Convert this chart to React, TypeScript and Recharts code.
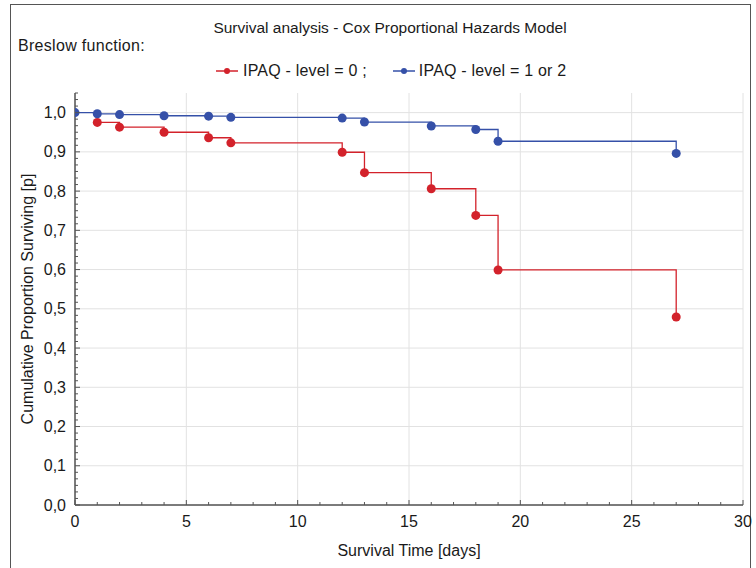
import React from "react";
import {
  LineChart,
  Line,
  XAxis,
  YAxis,
  CartesianGrid,
} from "recharts";

// ---- data ----
const blueDays = [0, 1, 2, 4, 6, 7, 12, 13, 16, 18, 19, 27];
const blueSurv = [1.0, 0.997, 0.995, 0.992, 0.991, 0.988, 0.986, 0.976, 0.966, 0.957, 0.927, 0.896];
const redDays = [1, 2, 4, 6, 7, 12, 13, 16, 18, 19, 27];
const redSurv = [0.975, 0.963, 0.95, 0.936, 0.923, 0.899, 0.847, 0.806, 0.738, 0.599, 0.479];

const xMajorTicks = [0, 5, 10, 15, 20, 25, 30];
const yMajorTicks = [0, 0.1, 0.2, 0.3, 0.4, 0.5, 0.6, 0.7, 0.8, 0.9, 1.0];

const titleText = "Survival analysis - Cox Proportional Hazards Model";
const subtitleText = "Breslow function:";
const redName = "IPAQ - level = 0 ;";
const blueName = "IPAQ - level = 1 or 2";
const xLabel = "Survival Time [days]";
const yLabel = "Cumulative Proportion Surviving [p]";

const redData = redDays.map((t, i) => ({ t, p: redSurv[i] }));
const blueData = blueDays.map((t, i) => ({ t, p: blueSurv[i] }));

// minor tick positions (styling only)
const xMinor = Array.from({ length: 31 }, (_, i) => i);
const yMinor = Array.from({ length: 64 }, (_, i) => i / 60);
const topMinor = Array.from({ length: 36 }, (_, i) => i);
const rightMinor = Array.from({ length: 41 }, (_, i) => i);

const RED = "#d3222b";
const BLUE = "#3550a8";
const FONT = "'Liberation Sans', Arial, sans-serif";
const TXT = "#1a1a1a";
const TICK_MARGIN = 9;
const FS = 16;

const fmt = (v: number) => v.toFixed(1).replace(".", ",");

const YTick = (props: any) => {
  const { x, y, payload } = props;
  const v = payload.value as number;
  const major = Math.round(v * 60) % 6 === 0;
  const ax = x + TICK_MARGIN;
  return (
    <g>
      <line x1={ax} x2={ax + (major ? 5 : 3)} y1={y} y2={y} stroke="#555" strokeWidth={1} />
      {major && (
        <text x={x} y={y} textAnchor="end" dominantBaseline="central" fontSize={FS} fontFamily={FONT} fill={TXT}>
          {fmt(v)}
        </text>
      )}
    </g>
  );
};

const XTick = (props: any) => {
  const { x, y, payload } = props;
  const v = payload.value as number;
  const major = v % 5 === 0;
  const ay = y - TICK_MARGIN - 1;
  return (
    <g>
      <line x1={x} x2={x} y1={ay} y2={ay - (major ? 5 : 3)} stroke="#555" strokeWidth={1} />
      {major && (
        <text x={x} y={y} textAnchor="middle" dy="0.72em" fontSize={FS} fontFamily={FONT} fill={TXT}>
          {v}
        </text>
      )}
    </g>
  );
};

const TopTick = (props: any) => {
  const { x, y } = props;
  return <line x1={x} x2={x} y1={y} y2={y + 3} stroke="#666" strokeWidth={1} />;
};

const RightTick = (props: any) => {
  const { x, y } = props;
  return <line x1={x} x2={x - 3} y1={y} y2={y} stroke="#666" strokeWidth={1} />;
};

const LegendIcon = ({ color }: { color: string }) => (
  <svg width={22} height={10} style={{ display: "inline-block", verticalAlign: "middle" }}>
    <line x1={0} x2={22} y1={5} y2={5} stroke={color} strokeWidth={1.5} />
    <circle cx={11} cy={5} r={3} fill={color} />
  </svg>
);

export default function App() {
  return (
    <div
      style={{
        position: "absolute",
        left: 0,
        top: 0,
        width: 756,
        height: 568,
        overflow: "hidden",
        background: "#fff",
        fontFamily: FONT,
      }}
    >
      <div
        style={{
          position: "absolute",
          left: 10,
          top: 4,
          width: 741,
          height: 620,
          border: "1.5px solid #555",
          boxSizing: "border-box",
        }}
      />
      <div
        style={{
          position: "absolute",
          left: 0,
          width: 780,
          top: 19,
          textAlign: "center",
          fontSize: 15.5,
          color: TXT,
          whiteSpace: "nowrap",
        }}
      >
        {titleText}
      </div>
      <div style={{ position: "absolute", left: 18, top: 37, fontSize: FS, letterSpacing: 0.3, color: TXT }}>
        {subtitleText}
      </div>
      <div
        style={{
          position: "absolute",
          left: 216,
          top: 62,
          fontSize: FS,
          letterSpacing: 0.2,
          color: TXT,
          whiteSpace: "nowrap",
          display: "flex",
          alignItems: "center",
        }}
      >
        <LegendIcon color={RED} />
        <span style={{ marginLeft: 5 }}>{redName}</span>
        <span style={{ marginLeft: 26, display: "inline-flex" }}>
          <LegendIcon color={BLUE} />
        </span>
        <span style={{ marginLeft: 4 }}>{blueName}</span>
      </div>

      <div style={{ position: "absolute", left: 0, top: 0 }}>
        <LineChart width={756} height={568} margin={{ top: 93, right: 13, bottom: 0, left: 0 }}>
          <CartesianGrid
            stroke="#e2e2e2"
            strokeWidth={1}
            strokeDasharray="0"
            verticalValues={xMajorTicks}
            horizontalValues={yMajorTicks}
          />
          <XAxis
            dataKey="t"
            type="number"
            domain={[0, 30]}
            ticks={xMinor}
            interval={0}
            height={63}
            tickSize={0}
            tickMargin={TICK_MARGIN + 1}
            axisLine={{ stroke: "#555", strokeWidth: 1.5 }}
            tickLine={false}
            tick={<XTick />}
            allowDataOverflow
            label={{ value: xLabel, position: "center", dy: 14, fontSize: FS, fill: TXT, fontFamily: FONT }}
          />
          <XAxis
            xAxisId="top"
            orientation="top"
            type="number"
            domain={[0, 35]}
            ticks={topMinor}
            interval={0}
            height={0}
            tickSize={0}
            tickMargin={0}
            axisLine={{ stroke: "#8a8a8a", strokeWidth: 2 }}
            tickLine={false}
            tick={<TopTick />}
            allowDataOverflow
          />
          <YAxis
            type="number"
            domain={[0, 1.05]}
            ticks={yMinor}
            interval={0}
            width={75}
            tickSize={0}
            tickMargin={TICK_MARGIN}
            axisLine={{ stroke: "#555", strokeWidth: 1.5 }}
            tickLine={false}
            tick={<YTick />}
            allowDataOverflow
            label={{
              value: yLabel,
              angle: -90,
              position: "center",
              dx: -10,
              fontSize: FS,
              fill: TXT,
              fontFamily: FONT,
            }}
          />
          <YAxis
            yAxisId="right"
            orientation="right"
            type="number"
            domain={[0, 40]}
            ticks={rightMinor}
            interval={0}
            width={0}
            tickSize={0}
            tickMargin={0}
            axisLine={{ stroke: "#8a8a8a", strokeWidth: 2 }}
            tickLine={false}
            tick={<RightTick />}
            allowDataOverflow
          />
          <Line
            data={redData}
            dataKey="p"
            type="stepAfter"
            stroke={RED}
            strokeWidth={1.3}
            dot={{ r: 4.5, fill: RED, stroke: RED, strokeWidth: 0 }}
            isAnimationActive={false}
          />
          <Line
            data={blueData}
            dataKey="p"
            type="stepAfter"
            stroke={BLUE}
            strokeWidth={1.3}
            dot={{ r: 4.5, fill: BLUE, stroke: BLUE, strokeWidth: 0 }}
            isAnimationActive={false}
          />
        </LineChart>
      </div>
    </div>
  );
}
